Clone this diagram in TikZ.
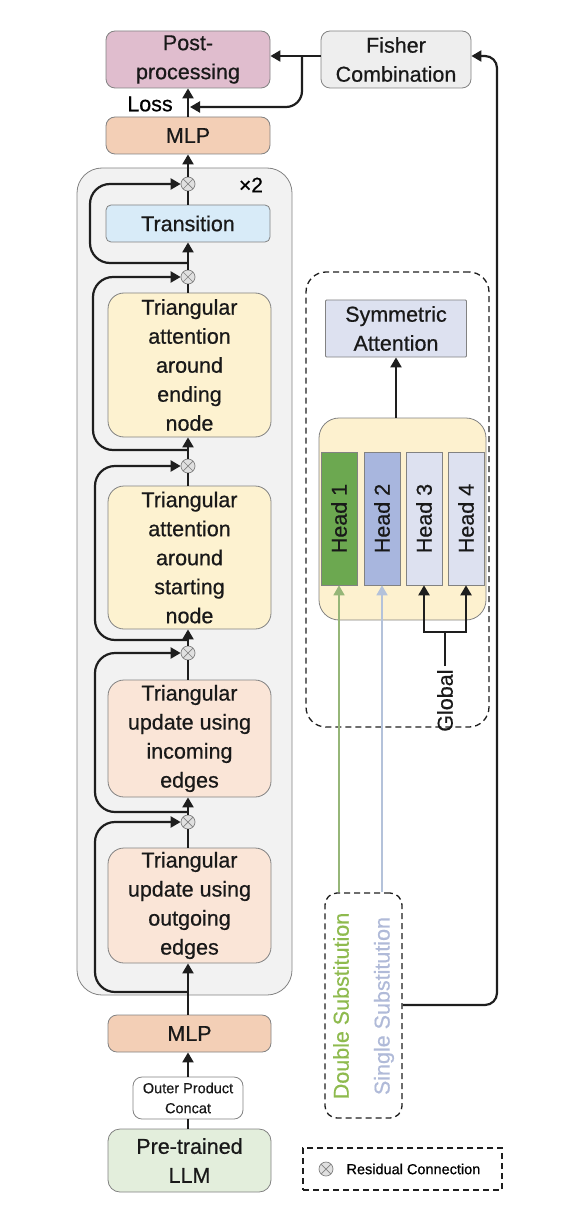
\documentclass[tikz,border=0pt]{standalone}
\usepackage{fontspec}
\setmainfont{Liberation Sans}[FakeBold=0.6]
\usetikzlibrary{arrows.meta,calc}
\definecolor{lin}{RGB}{30,30,30}
\definecolor{boxgray}{RGB}{130,130,130}
\definecolor{ppcol}{RGB}{224,189,206}
\definecolor{fishcol}{RGB}{238,238,238}
\definecolor{mlpcol}{RGB}{243,207,182}
\definecolor{bigcol}{RGB}{242,242,242}
\definecolor{trcol}{RGB}{216,235,248}
\definecolor{attcol}{RGB}{253,242,208}
\definecolor{updcol}{RGB}{250,229,215}
\definecolor{llmcol}{RGB}{227,238,220}
\definecolor{symcol}{RGB}{221,225,240}
\definecolor{hccol}{RGB}{253,241,207}
\definecolor{hAcol}{RGB}{108,168,80}
\definecolor{hBcol}{RGB}{168,182,222}
\definecolor{dsub}{RGB}{142,186,78}
\definecolor{ssub}{RGB}{176,186,216}
\definecolor{gline}{RGB}{150,182,120}
\definecolor{bline}{RGB}{180,194,218}
\newcommand\fs{\fontsize{21.5}{29}\selectfont}
\newcommand\fsm{\fontsize{14.5}{20}\selectfont}
\tikzset{
  box/.style={draw=boxgray, line width=0.8pt, rounded corners=9pt, align=center, font=\fs, inner sep=0pt, text=black!90},
  conn/.style={draw=lin, line width=2.2pt},
  arr/.style={-{Triangle[width=11pt,length=10pt]}},
  rescirc/.style={circle, draw=boxgray, fill=black!12, line width=0.7pt, minimum size=14pt, inner sep=0pt,
    path picture={\draw[boxgray, line width=0.7pt]
      ($(path picture bounding box.center)+(45:7pt)$) -- ($(path picture bounding box.center)+(225:7pt)$)
      ($(path picture bounding box.center)+(135:7pt)$) -- ($(path picture bounding box.center)+(315:7pt)$);}},
  headbox/.style={draw=boxgray, line width=0.6pt, minimum width=36pt, minimum height=133pt, inner sep=0pt},
  headtxt/.style={rotate=90, font=\fs, text=black!90},
  dashbox/.style={draw=lin, dashed, dash pattern=on 6pt off 4pt, line width=1.3pt},
}
\begin{document}
\begin{tikzpicture}[x=1pt,y=-1pt]
\useasboundingbox (0,0) rectangle (566,1214);
% big grey block
\node[box, fill=bigcol, rounded corners=25pt, minimum width=215pt, minimum height=827pt] (big) at (184.5,581.5) {};
\node[font=\fontsize{21}{22}\selectfont] (x2) at (251,185) {×2};
% top boxes
\node[box, fill=ppcol, minimum width=164pt, minimum height=57pt] (pp) at (188,59.5) {Post-\\processing};
\node[box, fill=fishcol, minimum width=150pt, minimum height=57pt] (fisher) at (396,59.5) {Fisher\\Combination};
\node[box, fill=mlpcol, minimum width=164pt, minimum height=37pt] (mlp2) at (188,135.5) {MLP};
\node[font=\fs] (loss) at (150,104) {Loss};
% stack
\node[box, fill=trcol, rounded corners=5pt, minimum width=164pt, minimum height=37pt] (tr) at (188,223.5) {Transition};
\node[box, fill=attcol, rounded corners=16pt, minimum width=163pt, minimum height=144pt] (att1) at (189.5,365) {Triangular\\attention\\around\\ending\\node};
\node[box, fill=attcol, rounded corners=16pt, minimum width=163pt, minimum height=143pt] (att2) at (189.5,557.5) {Triangular\\attention\\around\\starting\\node};
\node[box, fill=updcol, rounded corners=16pt, minimum width=163pt, minimum height=117pt] (up1) at (189.5,738.5) {Triangular\\update using\\incoming\\edges};
\node[box, fill=updcol, rounded corners=16pt, minimum width=163pt, minimum height=115pt] (up2) at (189.5,905.5) {Triangular\\update using\\outgoing\\edges};
\node[box, fill=mlpcol, minimum width=163pt, minimum height=37pt] (mlp1) at (189.5,1033.5) {MLP};
\node[box, fill=white, font=\fsm, minimum width=110pt, minimum height=42pt] (opc) at (188,1098) {Outer Product\\Concat};
\node[box, fill=llmcol, rounded corners=12pt, minimum width=163pt, minimum height=63pt] (llm) at (189.5,1160.5) {Pre-trained\\LLM};
% residual circles
\node[rescirc] (c1) at (188,184) {};
\node[rescirc] (c2) at (188,277) {};
\node[rescirc] (c3) at (188,466) {};
\node[rescirc] (c4) at (188,653) {};
\node[rescirc] (c5) at (188,822) {};
% main flow
\draw[conn] (opc.south -| c5) -- (llm.north -| c5);
\draw[conn, arr] (opc.north -| c5) -- (mlp1.south -| c5);
\draw[conn, arr] (mlp1.north -| c5) -- (up2.south -| c5);
\draw[conn] (up2.north -| c5) -- (c5);
\draw[conn, arr] (c5) -- (up1.south -| c5);
\draw[conn] (up1.north -| c4) -- (c4);
\draw[conn, arr] (c4) -- (att2.south -| c4);
\draw[conn] (att2.north -| c3) -- (c3);
\draw[conn, arr] (c3) -- (att1.south -| c3);
\draw[conn] (att1.north -| c2) -- (c2);
\draw[conn, arr] (c2) -- (tr.south -| c2);
\draw[conn] (tr.north -| c1) -- (c1);
\draw[conn, arr] (c1) -- (mlp2.south -| c1);
\draw[conn, arr] (mlp2.north -| c1) -- (pp.south -| c1);
% residual loops
\coordinate (s5) at (188,992);
\coordinate (s4) at (188,812);
\coordinate (s3) at (188,640);
\coordinate (s2) at (188,450);
\coordinate (s1) at (188,263);
\draw[conn, arr, rounded corners=20pt] (s5) -- (95,992) -- (95,822) -- (c5.west);
\draw[conn, arr, rounded corners=20pt] (s4) -- (95,812) -- (95,653) -- (c4.west);
\draw[conn, arr, rounded corners=20pt] (s3) -- (95,640) -- (95,466) -- (c3.west);
\draw[conn, arr, rounded corners=20pt] (s2) -- (93,450) -- (93,277) -- (c2.west);
\draw[conn, arr, rounded corners=20pt] (s1) -- (90,263) -- (90,184) -- (c1.west);
% fisher to post-processing and loss
\draw[conn, arr] (fisher.west |- 0,56) -- (pp.east |- 0,56);
\coordinate (br) at (302,56);
\coordinate (lossend) at (190,107);
\draw[conn, arr, rounded corners=16pt] (br) -- (302,107) -- (lossend);
% right dashed group
\node[dashbox, rounded corners=20pt, minimum width=183pt, minimum height=455pt] (grp) at (397.5,499.5) {};
\node[box, fill=symcol, rounded corners=1pt, minimum width=141pt, minimum height=57pt] (sym) at (396,328.5) {Symmetric\\Attention};
\node[box, fill=hccol, rounded corners=20pt, minimum width=167pt, minimum height=202pt] (hc) at (402.5,519) {};
\node[headbox, fill=hAcol] (h1) at (339,518.5) {};
\node[headbox, fill=hBcol] (h2) at (382,518.5) {};
\node[headbox, fill=symcol] (h3) at (424,518.5) {};
\node[headbox, fill=symcol] (h4) at (466,518.5) {};
\node[headtxt] at (h1) {Head 1};
\node[headtxt] at (h2) {Head 2};
\node[headtxt] at (h3) {Head 3};
\node[headtxt] at (h4) {Head 4};
\draw[conn, arr] (sym.south |- hc.north) -- (sym.south);
% global
\node[headtxt, anchor=east] (glob) at (445,666) {Global};
\coordinate (gj) at (445,632);
\draw[conn] (glob.east) -- (gj);
\draw[conn, arr] (gj) -| (h3.south);
\draw[conn, arr] (gj) -| (h4.south);
% substitutions
\node[dashbox, rounded corners=12pt, minimum width=77pt, minimum height=225pt] (sub) at (363.5,1005.5) {};
\node[headtxt, text=dsub] (dtxt) at (341,1006) {Double Substitution};
\node[headtxt, text=ssub] (stxt) at (384,1006) {Single Substitution};
\draw[draw=gline, line width=1.6pt, -{Triangle[width=11pt,length=10pt]}] (sub.north -| h1) -- (h1.south);
\draw[draw=bline, line width=1.6pt, -{Triangle[width=11pt,length=10pt]}] (sub.north -| h2) -- (h2.south);
\draw[conn, arr, rounded corners=12pt] (sub.east |- 0,1005) -- (497,1005) -- (497,56) -- (fisher.east |- 0,56);
% legend
\node[dashbox, minimum width=199pt, minimum height=42pt] (leg) at (402.5,1169) {};
\node[rescirc] (lc) at (326,1169) {};
\node[font=\fsm, anchor=west] (ltxt) at (343,1169) {Residual Connection};
\end{tikzpicture}
\end{document}
